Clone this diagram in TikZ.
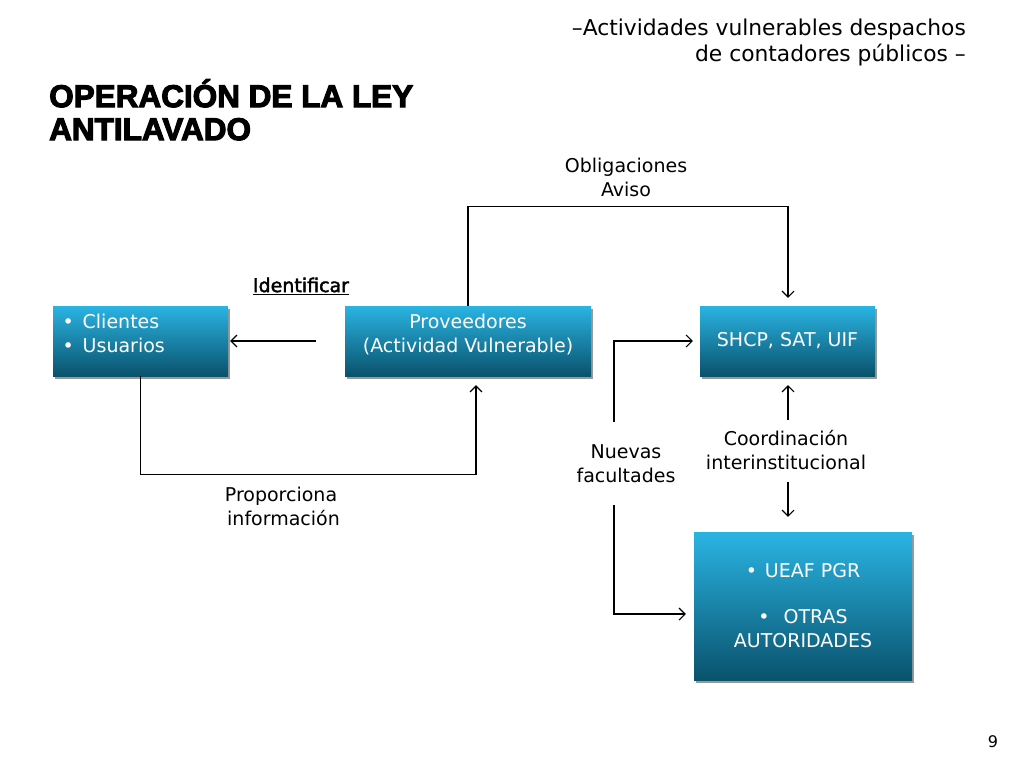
\documentclass[tikz,border=0pt]{standalone}
\usepackage{fontspec}
\setmainfont{DejaVu Sans}
\newfontfamily\titlefont[FakeBold=3.5]{Liberation Sans Bold}
\newfontfamily\identfont[FakeBold=2]{DejaVu Sans}
\usetikzlibrary{arrows.meta,shadows}
\definecolor{boxtop}{RGB}{42,180,227}
\definecolor{boxbot}{RGB}{9,82,108}

\begin{document}
\begin{tikzpicture}[x=1pt,y=-1pt]
        \tikzset{box/.style = {shape=rectangle,inner sep=0pt,text=white,top color=boxtop,bottom color=boxbot,
                 drop shadow={shadow xshift=2pt,shadow yshift=-3pt,fill=black,opacity=.4},
                 font=\fontsize{19pt}{24pt}\selectfont}};
        \tikzset{lbl/.style = {align=center,inner sep=0pt,font=\fontsize{19pt}{24pt}\selectfont}};
        \tikzset{edge/.style = {->,line width=1.1pt,> = {Straight Barb[length=6pt,width=12pt]}}};
        \useasboundingbox (0,0) rectangle (1024,768);
        \node[anchor=north west,align=left,inner sep=0pt,font=\titlefont\fontsize{31.5pt}{33pt}\selectfont] (title) at (49,79) {OPERACIÓN DE LA LEY\\ANTILAVADO};
        \node[anchor=north east,align=right,inner sep=0pt,font=\fontsize{21.8pt}{26pt}\selectfont] (subtitle) at (966,19) {–Actividades vulnerables despachos\\de contadores públicos –};
        \node[box,minimum width=175pt,minimum height=70pt] (cli) at (140.5,341) {\parbox[c][54pt][t]{156pt}{\textbullet\hspace{9pt}Clientes\\\textbullet\hspace{9pt}Usuarios}};
        \node[box,minimum width=246pt,minimum height=70pt] (prov) at (468,341) {\parbox[c][54pt][t]{236pt}{\centering Proveedores\\(Actividad Vulnerable)}};
        \node[box,minimum width=175pt,minimum height=70pt] (shcp) at (787.5,341) {\raisebox{-3pt}{SHCP, SAT, UIF}};
        \node[box,minimum width=218pt,minimum height=148pt] (ueaf) at (803,606) {\parbox{200pt}{\centering\textbullet\hspace{8pt}UEAF PGR\\[22pt]\textbullet\hspace{14pt}OTRAS\\AUTORIDADES}};
        \node[lbl] (oblig) at (626,177) {Obligaciones\\Aviso};
        \node[lbl,font=\identfont\fontsize{19pt}{24pt}\selectfont] (ident) at (301,286) {\underline{Identificar}};
        \node[lbl] (prop) at (281,506) {Proporciona\\\hspace{5pt}información};
        \node[lbl] (nuevas) at (626,464) {Nuevas\\facultades};
        \node[lbl] (coord) at (786,450) {Coordinación\\interinstitucional};
        \node[inner sep=0pt,font=\fontsize{16pt}{18pt}\selectfont] (pnum) at (993,742) {9};
        \coordinate (nfup) at (614,422);
        \coordinate (nfdn) at (614,505);
        \coordinate (coup) at (788,420);
        \coordinate (codn) at (788,482);
        \draw[edge] ([xshift=-29pt]prov.west) -- ([xshift=2pt]cli.east);
        \draw[edge] (prov.north) -- ++(0,-99) -| ([xshift=0.5pt,yshift=8pt]shcp.north);
        \draw[edge] (cli.south) -- ++(0,98) -| ([xshift=8pt,yshift=-9pt]prov.south);
        \draw[edge] (nfup) |- ([xshift=-7pt]shcp.west);
        \draw[edge] (nfdn) |- ([xshift=-8pt,yshift=-8pt]ueaf.west);
        \draw[edge] (coup) -- ([yshift=-9pt]coup |- shcp.south);
        \draw[edge] (codn) -- ([yshift=15pt]codn |- ueaf.north);
    \end{tikzpicture}
\end{document}
